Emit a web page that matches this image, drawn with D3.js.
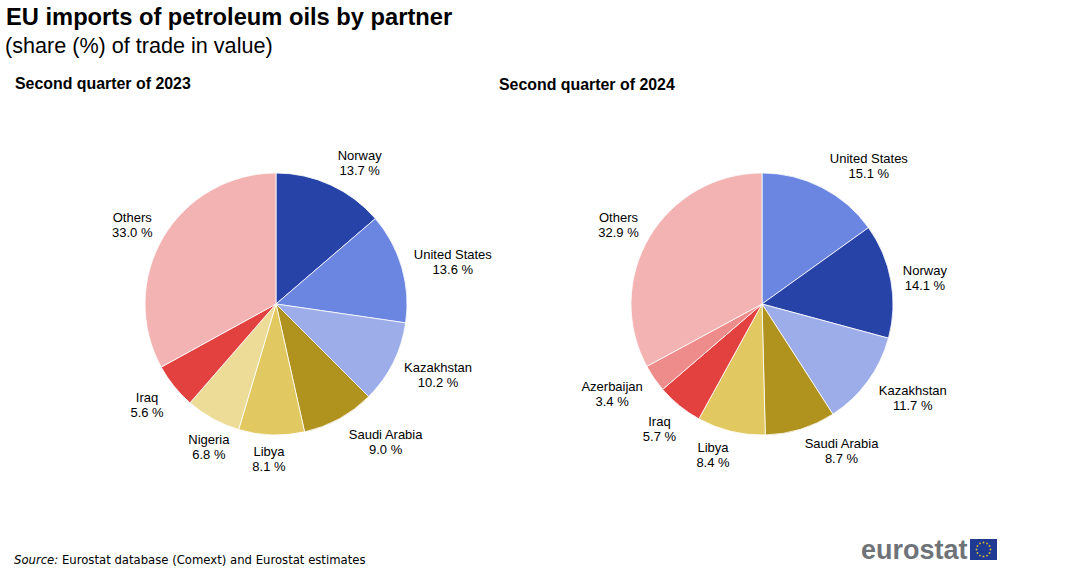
<!DOCTYPE html>
<html><head><meta charset="utf-8">
<script src="https://cdn.jsdelivr.net/npm/d3@7"></script>
<style>html,body{margin:0;background:#fff}svg{display:block}text{font-family:"Liberation Sans",Arial,sans-serif;fill:#000}</style>
</head><body><svg id="c" width="1067" height="576"></svg>
<script>
const categories2023=["Norway","United States","Kazakhstan","Saudi Arabia","Libya","Nigeria","Iraq","Others"];
const values2023=[13.7,13.6,10.2,9.0,8.1,6.8,5.6,33.0];
const categories2024=["United States","Norway","Kazakhstan","Saudi Arabia","Libya","Iraq","Azerbaijan","Others"];
const values2024=[15.1,14.1,11.7,8.7,8.4,5.7,3.4,32.9];
const partnerNames=["Norway","United States","Kazakhstan","Saudi Arabia","Libya","Nigeria","Iraq","Azerbaijan","Others"];
const partnerColors=["#2743a8","#6a86e0","#9dade9","#b0921e","#e2c860","#ecdc98","#e34040","#ee8b8b","#f4b3b3"];
const labelNudge2023=[[29,-22],[51,-5],[45,12],[46.5,23],[-2.5,24],[-4,28],[-27,19],[-31,-12]];
const labelNudge2024=[[47,-21],[34,-3],[45,17],[41,22],[-18,24],[-20,23],[-42,16],[-31,-12]];

const svg=d3.select("#c");
const color=d3.scaleOrdinal(partnerNames,partnerColors);
const R=131;
const pie=d3.pie().sort(null).value(d=>d.v);
const arc=d3.arc().innerRadius(0).outerRadius(R);
const edge=d3.arc().innerRadius(R).outerRadius(R);

function drawPie(cx,cy,cats,vals,nudges){
  const g=svg.append("g").attr("transform",`translate(${cx},${cy})`);
  const arcs=pie(cats.map((c,i)=>({c,v:vals[i],n:nudges[i]})));
  g.selectAll("path").data(arcs).join("path").attr("d",arc)
    .attr("fill",d=>color(d.data.c)).attr("stroke","#fff").attr("stroke-width",0.8);
  const lab=g.selectAll("text").data(arcs).join("text")
    .attr("text-anchor","middle").attr("font-size",13)
    .attr("transform",d=>{const p=edge.centroid(d);return `translate(${p[0]+d.data.n[0]},${p[1]+d.data.n[1]})`;});
  lab.append("tspan").attr("x",0).attr("y",-3).text(d=>d.data.c);
  lab.append("tspan").attr("x",0).attr("y",12).text(d=>d.data.v.toFixed(1)+" %");
}
drawPie(276,304,categories2023,values2023,labelNudge2023);
drawPie(762,304,categories2024,values2024,labelNudge2024);

svg.append("text").attr("x",6).attr("y",25).attr("font-size",23.7).attr("font-weight","bold").text("EU imports of petroleum oils by partner");
svg.append("text").attr("x",5).attr("y",53).attr("font-size",21.6).text("(share (%) of trade in value)");
svg.append("text").attr("x",15).attr("y",89).attr("font-size",15.9).attr("font-weight","bold").text("Second quarter of 2023");
svg.append("text").attr("x",499).attr("y",90).attr("font-size",15.9).attr("font-weight","bold").text("Second quarter of 2024");

const src=svg.append("text").attr("x",14).attr("y",564).attr("font-size",11.67).style("font-family","'DejaVu Sans',sans-serif");
src.append("tspan").attr("font-style","italic").text("Source:");
src.append("tspan").text(" Eurostat database (Comext) and Eurostat estimates");

svg.append("text").attr("x",861).attr("y",559).attr("font-size",27).attr("font-weight","bold").style("fill","#6f7378").text("eurostat");
const fx=970,fy=539,fw=27,fh=21;
svg.append("rect").attr("x",fx).attr("y",fy).attr("width",fw).attr("height",fh).attr("fill","#1f3a93");
svg.append("g").selectAll("circle").data(d3.range(12)).join("circle")
  .attr("cx",i=>fx+fw/2+7*Math.sin(i*Math.PI/6)).attr("cy",i=>fy+fh/2-7*Math.cos(i*Math.PI/6))
  .attr("r",0.9).attr("fill","#d9b92e");
</script></body></html>
